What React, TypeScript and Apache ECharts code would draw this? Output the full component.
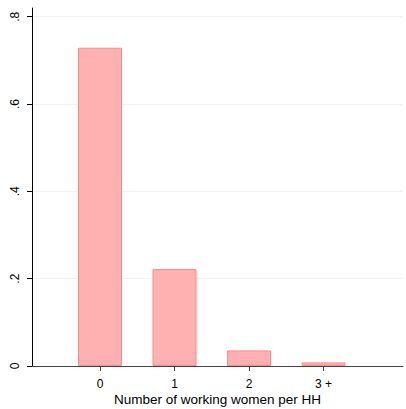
import React, { useEffect, useRef } from "react";
import * as echarts from "echarts";

const categories = ["0", "1", "2", "3 +"];
const positions = [0, 1, 2, 3];
const shares = [0.729, 0.222, 0.0357, 0.0082];
const yTicks = [0, 0.2, 0.4, 0.6, 0.8];
const xTitle = "Number of working women per HH";

export default function App() {
  const ref = useRef<HTMLDivElement>(null);
  useEffect(() => {
    if (!ref.current) return;
    const chart = echarts.init(ref.current, null, { renderer: "svg" });
    const font = "Liberation Sans, Arial, Helvetica, sans-serif";
    chart.setOption({
      animation: false,
      grid: { left: 32, right: 3, top: 8, bottom: 43, containLabel: false, outerBoundsMode: "none" },
      xAxis: {
        type: "value",
        min: -0.913,
        max: 4.067,
        name: xTitle,
        nameLocation: "middle",
        nameGap: 26,
        nameMoveOverlap: false,
        nameTextStyle: { fontFamily: font, fontSize: 13.5, color: "#000", lineHeight: 14 },
        axisLine: { show: true, onZero: false, lineStyle: { color: "#444", width: 1 } },
        axisTick: { show: true, length: 5, customValues: positions, lineStyle: { color: "#444" } },
        axisLabel: {
          customValues: positions,
          formatter: (v: number) => categories[Math.round(v)] ?? "",
          fontFamily: font,
          fontSize: 12,
          lineHeight: 12,
          color: "#000",
          margin: 12,
        },
        splitLine: { show: false },
      },
      yAxis: {
        type: "value",
        min: 0,
        max: 0.82,
        axisLine: { show: true, onZero: false, lineStyle: { color: "#000", width: 1 } },
        axisTick: { show: true, length: 5, customValues: yTicks, lineStyle: { color: "#000" } },
        axisLabel: {
          customValues: yTicks,
          formatter: (v: number) => (v === 0 ? "0" : String(Number(v.toFixed(1))).replace(/^0/, "")),
          rotate: 90,
          fontFamily: font,
          fontSize: 12,
          color: "#000",
          margin: 11,
        },
        splitLine: { show: true, lineStyle: { color: "#eaf2f3", width: 1 } },
      },
      series: [
        {
          type: "bar",
          data: positions.map((p, i) => [p, shares[i]]),
          barWidth: 44,
          itemStyle: { color: "#ffb0b0", borderColor: "#ff8787", borderWidth: 1 },
        },
      ],
    });
    return () => chart.dispose();
  }, []);
  return (
    <div
      ref={ref}
      style={{ position: "fixed", left: 0, top: 0, width: 406, height: 409, background: "#fff" }}
    />
  );
}
